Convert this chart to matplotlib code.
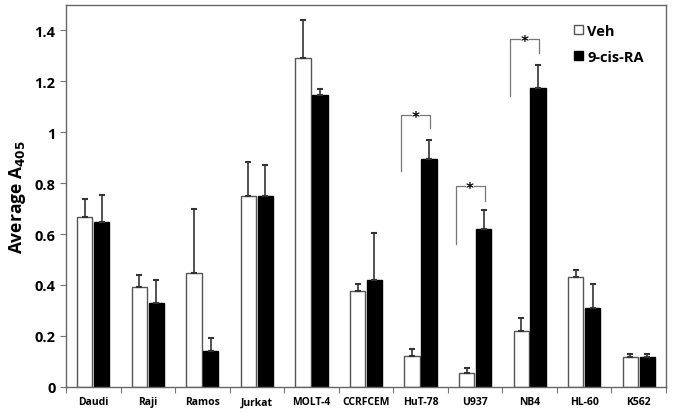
import matplotlib
matplotlib.use("Agg")
import matplotlib.pyplot as plt
import numpy as np

plt.rcParams['font.family'] = ['Open Sans', 'DejaVu Sans']

categories = ["Daudi", "Raji", "Ramos", "Jurkat", "MOLT-4", "CCRFCEM",
              "HuT-78", "U937", "NB4", "HL-60", "K562"]
veh = [0.668, 0.39, 0.445, 0.748, 1.29, 0.375, 0.12, 0.055, 0.22, 0.43, 0.115]
veh_err = [0.070, 0.05, 0.255, 0.135, 0.15, 0.03, 0.03, 0.02, 0.05, 0.03, 0.015]
ra = [0.648, 0.33, 0.14, 0.748, 1.148, 0.42, 0.895, 0.62, 1.175, 0.31, 0.115]
ra_err = [0.107, 0.09, 0.05, 0.125, 0.022, 0.185, 0.075, 0.075, 0.09, 0.095, 0.015]
yticks = [0, 0.2, 0.4, 0.6, 0.8, 1.0, 1.2, 1.4]
ytick_labels = ["0", "0.2", "0.4", "0.6", "0.8", "1", "1.2", "1.4"]

# significance brackets: (category index, left bottom, top, right bottom)
sig_idx = [6, 7, 8]
sig_left_bottom = [0.846, 0.559, 1.144]
sig_top = [1.066, 0.787, 1.365]
sig_right_bottom = [1.015, 0.729, 1.310]

fig = plt.figure(figsize=(6.73, 4.14), dpi=100)
ax = fig.add_axes([0.098, 0.0635, 0.8916, 0.922])

x = np.arange(len(categories)) + 0.5
w = 0.28
off = 0.155
ax.bar(x - off, veh, w, color="white", edgecolor="#555555", linewidth=1.0,
       label="Veh", zorder=2)
ax.bar(x + off, ra, w, color="black", edgecolor="black", linewidth=1.0,
       label="9-cis-RA", zorder=2)
ax.errorbar(x - off, veh, yerr=[np.zeros(len(veh)), veh_err], fmt="none",
            ecolor="#333333", elinewidth=1.2, capsize=2, capthick=1.5, zorder=3)
ax.errorbar(x + off, ra, yerr=[np.zeros(len(ra)), ra_err], fmt="none",
            ecolor="#333333", elinewidth=1.2, capsize=2, capthick=1.5, zorder=3)

for i, lb, tp, rb in zip(sig_idx, sig_left_bottom, sig_top, sig_right_bottom):
    xl = x[i] - 0.355
    xr = x[i] + 0.175
    ax.plot([xl, xl, xr, xr], [lb, tp, tp, rb], color="#777777", lw=0.9, zorder=3)
    ax.text((xl + xr) / 2, tp - 0.008, "*", ha="center", va="center", fontsize=11,
            fontweight="bold", color="black", zorder=4, family="DejaVu Sans",
            bbox=dict(facecolor="white", edgecolor="none", pad=0.05))

ax.set_xlim(0, len(categories))
ax.set_ylim(0, 1.5)
ax.set_xticks(np.arange(len(categories) + 1))
ax.set_xticklabels([])
ax.set_xticks(x, minor=True)
ax.set_xticklabels(categories, minor=True, fontsize=7.5, fontweight="bold")
ax.tick_params(axis="x", which="minor", length=0, pad=7)
ax.tick_params(axis="x", which="major", direction="out", length=4, color="#777777")
ax.set_yticks(yticks)
ax.set_yticklabels(ytick_labels, fontsize=10.5, fontweight="bold")
ax.tick_params(axis="y", direction="out", length=4, color="#777777")
ax.set_ylabel("Average A$_{\\mathbf{405}}$", fontsize=12.5, fontweight="bold", labelpad=5)

for s in ax.spines.values():
    s.set_color("#666666")
    s.set_linewidth(1.0)

leg = ax.legend(loc="upper right", frameon=False, prop={"weight": "bold", "size": 10.5},
                handlelength=0.6, handleheight=0.6, handletextpad=0.3,
                labelspacing=0.8, bbox_to_anchor=(0.985, 0.985))

fig.savefig("out.png", dpi=100)
